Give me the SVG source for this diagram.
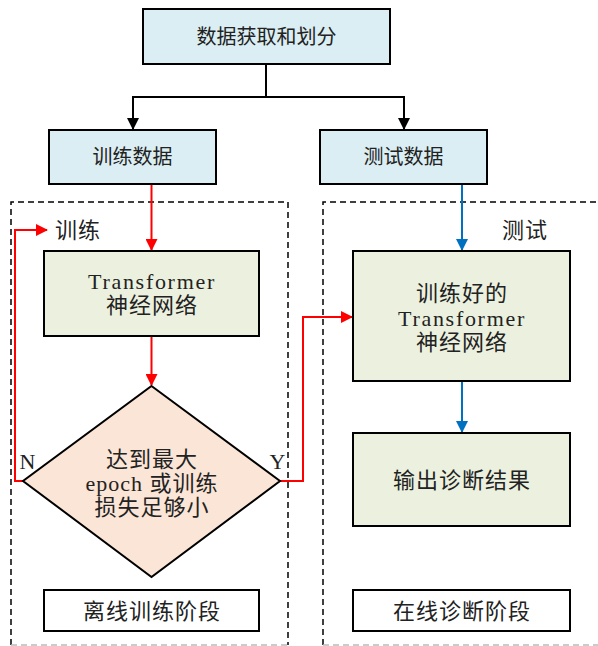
<svg xmlns="http://www.w3.org/2000/svg" width="598" height="646" viewBox="0 0 598 646">
<style>
.t{font-family:"Liberation Serif","Noto Sans CJK SC",serif;font-size:20px;fill:#222;text-anchor:middle;dominant-baseline:central}
.sp{font-size:22px;letter-spacing:1px}
.lat{letter-spacing:1.7px}
.blue{fill:#DAEEF3;stroke:#000;stroke-width:2}
.green{fill:#EBF1DE;stroke:#000;stroke-width:2}
.white{fill:#fff;stroke:#000;stroke-width:2}
.dash{fill:none;stroke:#000;stroke-width:1.5;stroke-dasharray:6,4}
.k{fill:none;stroke:#000;stroke-width:2}
.r{fill:none;stroke:#FF0000;stroke-width:2}
.b{fill:none;stroke:#0070C0;stroke-width:2}
</style>
<defs>
<marker id="ak" markerWidth="12" markerHeight="12" refX="11" refY="6" orient="auto" markerUnits="userSpaceOnUse"><path d="M0,0 L12,6 L0,12 z" fill="#000"/></marker>
<marker id="ar" markerWidth="12" markerHeight="12" refX="11" refY="6" orient="auto" markerUnits="userSpaceOnUse"><path d="M0,0 L12,6 L0,12 z" fill="#FF0000"/></marker>
<marker id="ab" markerWidth="12" markerHeight="12" refX="11" refY="6" orient="auto" markerUnits="userSpaceOnUse"><path d="M0,0 L12,6 L0,12 z" fill="#0070C0"/></marker>
</defs>
<g id="regions">
<path class="dash" d="M11,645 V202 H288 V645"/>
<path d="M11,645 H288" fill="none" stroke="#bbb" stroke-width="1.5" stroke-dasharray="6,4"/>
<path class="dash" d="M323,645 V202 H598"/>
<path d="M323,645 H598" fill="none" stroke="#bbb" stroke-width="1.5" stroke-dasharray="6,4"/>
</g>
<g id="connectors">
<path class="k" d="M266,64 V97 H133 V129" marker-end="url(#ak)"/>
<path class="k" d="M266,97 H404 V129" marker-end="url(#ak)"/>
<path class="r" d="M151.5,184 V250" marker-end="url(#ar)"/>
<path class="r" d="M151.5,336 V385" marker-end="url(#ar)"/>
<path class="r" d="M23,481 H15 V230 H47" marker-end="url(#ar)"/>
<path class="r" d="M280,481 H303 V317 H352" marker-end="url(#ar)"/>
<path class="b" d="M462,184 V250" marker-end="url(#ab)"/>
<path class="b" d="M462,381 V432" marker-end="url(#ab)"/>
<text class="t sp" x="78" y="230">训练</text>
<text class="t sp" x="525" y="230">测试</text>
<text class="t sp" x="28" y="461">N</text>
<text class="t sp" x="278" y="461">Y</text>
</g>
<g id="n-data">
<rect class="blue" x="143" y="9" width="247" height="55"/>
<text class="t" x="266.5" y="37">数据获取和划分</text>
</g>
<g id="n-train-data">
<rect class="blue" x="49" y="130" width="167" height="54"/>
<text class="t" x="132.5" y="157">训练数据</text>
</g>
<g id="n-test-data">
<rect class="blue" x="320" y="130" width="167" height="54"/>
<text class="t" x="403.5" y="157">测试数据</text>
</g>
<g id="n-transformer">
<rect class="green" x="44" y="251" width="215" height="85"/>
<text class="t sp lat" x="152" y="281">Transformer</text>
<text class="t sp" x="152" y="305">神经网络</text>
</g>
<g id="n-decision">
<polygon points="151.5,386 280,481 151.5,577 23,481" fill="#FBE5D6" stroke="#000" stroke-width="2"/>
<text class="t sp" x="152" y="459">达到最大</text>
<text class="t sp" x="152" y="483">epoch 或训练</text>
<text class="t sp" x="152" y="507">损失足够小</text>
</g>
<g id="n-trained">
<rect class="green" x="353" y="251" width="217" height="130"/>
<text class="t sp" x="462" y="293">训练好的</text>
<text class="t sp lat" x="462" y="318">Transformer</text>
<text class="t sp" x="462" y="342">神经网络</text>
</g>
<g id="n-output">
<rect class="green" x="353" y="433" width="217" height="93"/>
<text class="t sp" x="462" y="480">输出诊断结果</text>
</g>
<g id="n-offline">
<rect class="white" x="44" y="590" width="215" height="41"/>
<text class="t sp" x="152" y="611">离线训练阶段</text>
</g>
<g id="n-online">
<rect class="white" x="353" y="590" width="217" height="41"/>
<text class="t sp" x="462" y="611">在线诊断阶段</text>
</g>
</svg>
